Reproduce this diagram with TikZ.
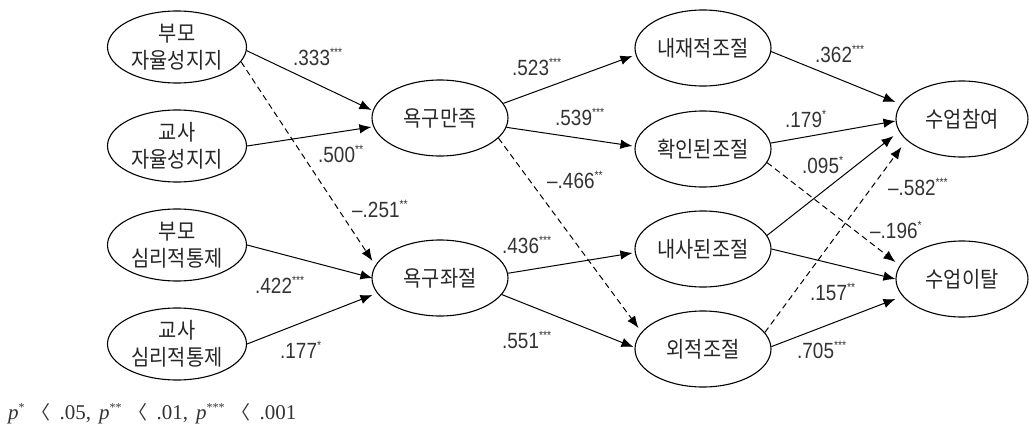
\documentclass[tikz,border=0pt]{standalone}
\usepackage{fontspec}
\setmainfont{Liberation Serif}
\newfontfamily\kr[FakeStretch=0.9]{Noto Sans CJK KR}
\newfontfamily\krb{Noto Sans CJK KR}
\newfontfamily\numf[FakeStretch=0.86]{Liberation Sans}
\usetikzlibrary{shapes.geometric,arrows.meta,calc}
\newcommand\st[1]{\raisebox{9pt}{\fontsize{12}{12}\selectfont #1}}
\newcommand\stf[1]{\raisebox{8pt}{\fontsize{12}{12}\selectfont #1}}
\newcommand\lt{\hspace{7pt}{\krb\fontsize{19}{19}\selectfont 〈}\hspace{9pt}}
\begin{document}
\begin{tikzpicture}[x=1pt,y=-1pt,
  ell/.style={draw, ellipse, line width=1.1pt, inner xsep=-8pt, inner ysep=-8pt,
    minimum width=136pt, minimum height=76pt, align=center, text=black!85,
    font=\kr\fontsize{22}{27}\selectfont},
  ellL/.style={ell, minimum width=139pt, minimum height=72pt},
  arr/.style={line width=1pt, -{Latex[length=12pt,width=9.5pt]}},
  darr/.style={arr, dash pattern=on 6pt off 4pt},
  lab/.style={anchor=base west, inner sep=0pt, text=black!80, font=\numf\fontsize{22}{22}\selectfont}]
\useasboundingbox (0,0) rectangle (1029,431);
% nodes
\node[ellL] (A1) at (177,47) {부모\\자율성지지};
\node[ellL] (A2) at (177,146) {교사\\자율성지지};
\node[ellL] (A3) at (177,245) {부모\\심리적통제};
\node[ellL] (A4) at (177,344) {교사\\심리적통제};
\node[ell] (B1) at (440,118) {욕구만족};
\node[ell] (B2) at (440,278) {욕구좌절};
\node[ell] (C1) at (703,48) {내재적조절};
\node[ell] (C2) at (703,149) {확인된조절};
\node[ell] (C3) at (703,249) {내사된조절};
\node[ell] (C4) at (703,349) {외적조절};
\node[ell, minimum width=132pt] (D1) at (962,119) {수업참여};
\node[ell, minimum width=132pt] (D2) at (962,279) {수업이탈};
% connectors
\draw[arr] (A1.-3) -- ($(B1.west)+(0,-8)$);
\draw[arr] (A2.east) -- ($(B1.west)+(0,9)$);
\draw[darr] (A1.-13) -- ($(B2.west)+(1,-17)$);
\draw[arr] (A3.east) -- ($(B2.west)+(1,0)$);
\draw[arr] (A4.east) -- ($(B2.west)+(1,17)$);
\draw[arr] (B1.13) -- ($(C1.west)+(-2,8)$);
\draw[arr] (B1.-8) -- ($(C2.west)+(-2,-3)$);
\draw[darr] (B1.-19) -- ($(C4.west)+(4,-21)$);
\draw[arr] (B2.4) -- ($(C3.west)+(-2,4)$);
\draw[arr] (B2.-15) -- ($(C4.west)+(-1,-2)$);
\draw[arr] (C1.-3) -- ($(D1.west)+(0,-17)$);
\draw[arr] (C2.5) -- ($(D1.west)+(0,2)$);
\draw[darr] (C2.-12) -- ($(D2.west)+(0,-17)$);
\draw[arr] (C3.12) -- ($(D1.west)+(-2,17)$);
\draw[arr] (C3.east) -- ($(D2.west)+(0,0)$);
\draw[darr] (C4.15) -- ($(D1.west)+(6,28)$);
\draw[arr] (C4.2) -- ($(D2.west)+(0,20)$);
% labels
\node[lab] (l1) at (293,65) {.333\st{***}};
\node[lab] (l2) at (318,162) {.500\st{**}};
\node[lab] (l3) at (352,217) {–.251\st{**}};
\node[lab] (l4) at (255,293) {.422\st{***}};
\node[lab] (l5) at (280,358) {.177\st{*}};
\node[lab] (l6) at (512,75) {.523\st{***}};
\node[lab] (l7) at (555,125) {.539\st{***}};
\node[lab] (l8) at (547,188) {–.466\st{**}};
\node[lab] (l9) at (502,253) {.436\st{***}};
\node[lab] (l10) at (502,348) {.551\st{***}};
\node[lab] (l11) at (815,62) {.362\st{***}};
\node[lab] (l12) at (785,127) {.179\st{*}};
\node[lab] (l13) at (802,173) {.095\st{*}};
\node[lab] (l14) at (888,195) {–.582\st{***}};
\node[lab] (l15) at (870,238) {–.196\st{*}};
\node[lab] (l16) at (810,300) {.157\st{**}};
\node[lab] (l17) at (797,358) {.705\st{***}};
% footnote
\node[anchor=base west, inner sep=0pt, text=black!80, font=\fontsize{21}{21}\selectfont] (fn) at (8,419)
  {\textit{p}\stf{*}\lt.05,\hspace{8pt}\textit{p}\stf{**}\lt.01,\hspace{8pt}\textit{p}\stf{***}\lt.001};
\end{tikzpicture}
\end{document}
